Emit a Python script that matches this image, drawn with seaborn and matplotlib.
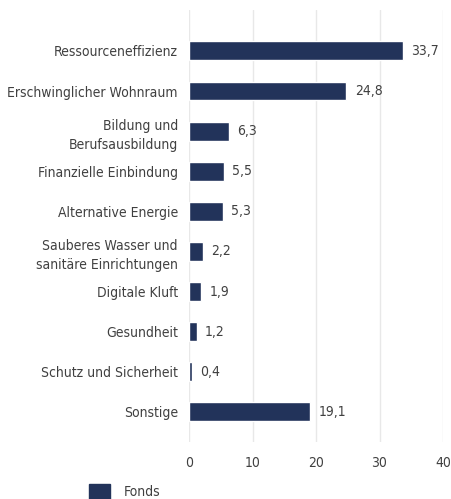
"""Fondsaufteilung nach Themen - horizontales Balkendiagramm."""
import matplotlib
matplotlib.use("Agg")
import matplotlib.pyplot as plt
import seaborn as sns
import pandas as pd

categories = [
    "Ressourceneffizienz",
    "Erschwinglicher Wohnraum",
    "Bildung und\nBerufsausbildung",
    "Finanzielle Einbindung",
    "Alternative Energie",
    "Sauberes Wasser und\nsanitäre Einrichtungen",
    "Digitale Kluft",
    "Gesundheit",
    "Schutz und Sicherheit",
    "Sonstige",
]
values = [33.7, 24.8, 6.3, 5.5, 5.3, 2.2, 1.9, 1.2, 0.4, 19.1]
series_name = "Fonds"
x_ticks = [0, 10, 20, 30, 40]

bar_color = "#22335a"
text_color = "#404040"

sns.set_theme(style="whitegrid")
plt.rcParams['font.family'] = ['DejaVu Sans']
plt.rcParams['font.stretch'] = 'condensed'

df = pd.DataFrame({"Kategorie": categories, "Wert": values, "Serie": series_name})

fig = plt.figure(figsize=(4.51, 4.99), dpi=100)
ax = fig.add_axes([189 / 451, 1 - 442 / 499, (443 - 189) / 451, (442 - 10) / 499])

sns.barplot(data=df, y="Kategorie", x="Wert", hue="Serie", orient="h",
            palette=[bar_color], width=0.47, saturation=1, ax=ax, legend=False)

# labels with German decimal comma
for cont in ax.containers:
    ax.bar_label(cont, labels=[f"{v:.1f}".replace(".", ",") for v in values],
                 padding=6, fontsize=10, color=text_color)

ax.set_xlim(0, 40)
ax.set_ylim(9.75, -1.02)
ax.set_xticks(x_ticks)
ax.set_xlabel("")
ax.set_ylabel("")
ax.grid(axis="y", visible=False)
ax.grid(axis="x", color="#e8e8e8", linewidth=1)
for s in ax.spines.values():
    s.set_visible(False)
ax.tick_params(axis="both", length=0, labelsize=10, colors=text_color)
ax.tick_params(axis="x", pad=10)
ax.tick_params(axis="y", pad=8)
for lbl in ax.get_yticklabels():
    lbl.set_linespacing(1.5)

handle = plt.Rectangle((0, 0), 1, 1, color=bar_color)
fig.legend([handle], [series_name], loc="upper left",
           bbox_to_anchor=(81 / 451, 1 - 476 / 499), frameon=False,
           fontsize=10, labelcolor=text_color, handlelength=1.5,
           handleheight=1.2, handletextpad=1.0, borderpad=0.1)

fig.savefig("out.png", dpi=100)
